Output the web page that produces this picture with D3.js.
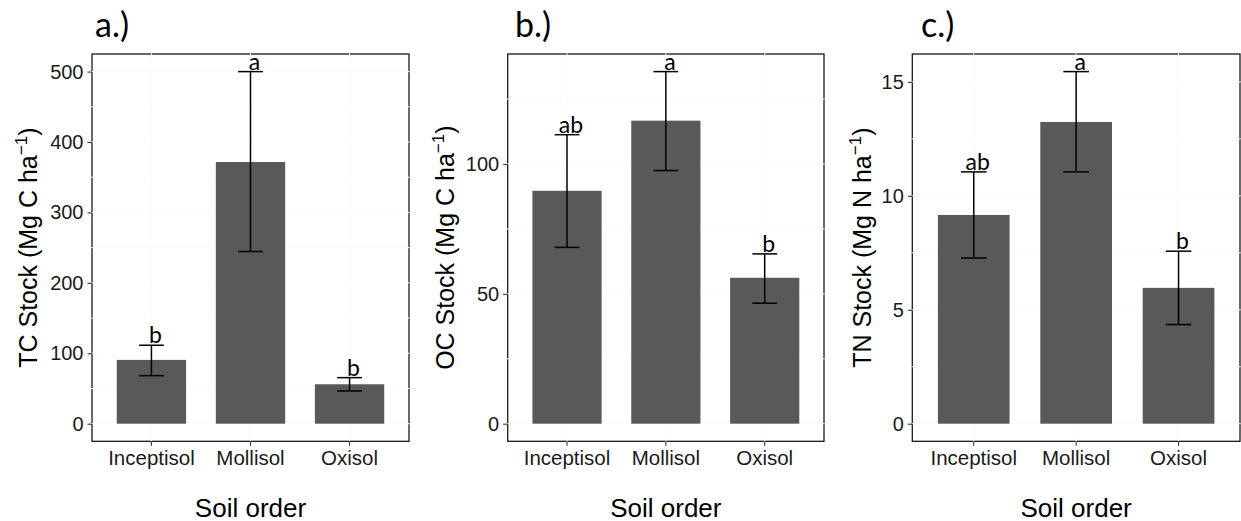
<!DOCTYPE html>
<html>
<head>
<meta charset="utf-8">
<script src="https://cdn.jsdelivr.net/npm/d3@7"></script>
<style>
  html, body { margin: 0; padding: 0; background: #fff; }
  svg { display: block; }
</style>
</head>
<body>
<svg id="chart" width="1241" height="521"></svg>
<script>
// ---- data ----
const categories = ["Inceptisol", "Mollisol", "Oxisol"];

const tcMean = [90.6, 371.6, 56.0];
const tcLow  = [68.2, 244.5, 46.5];
const tcHigh = [111.4, 500.0, 65.4];
const tcLetters = ["b", "a", "b"];
const tcTicks = [0, 100, 200, 300, 400, 500];

const ocMean = [89.7, 116.7, 56.2];
const ocLow  = [67.9, 97.5, 46.4];
const ocHigh = [111.3, 135.6, 65.4];
const ocLetters = ["ab", "a", "b"];
const ocTicks = [0, 50, 100];

const tnMean = [9.16, 13.24, 5.96];
const tnLow  = [7.27, 11.05, 4.35];
const tnHigh = [11.05, 15.45, 7.57];
const tnLetters = ["ab", "a", "b"];
const tnTicks = [0, 5, 10, 15];

const panelTitles = ["a.)", "b.)", "c.)"];
const yTitles = [
  { main: "TC Stock (Mg C ha", sup: "\u22121" },
  { main: "OC Stock (Mg C ha", sup: "\u22121" },
  { main: "TN Stock (Mg N ha", sup: "\u22121" }
];
const xTitle = "Soil order";

// ---- layout ----
const panels = [
  { left: 92,    right: 409,  titleX: 95,  yTitleX: 28,  mean: tcMean, low: tcLow, high: tcHigh, letters: tcLetters, ticks: tcTicks },
  { left: 507.7, right: 824,  titleX: 515, yTitleX: 445, mean: ocMean, low: ocLow, high: ocHigh, letters: ocLetters, ticks: ocTicks },
  { left: 912.3, right: 1240, titleX: 921, yTitleX: 862, mean: tnMean, low: tnLow, high: tnHigh, letters: tnLetters, ticks: tnTicks }
];
const panelTop = 54, panelBottom = 441.3;

const svg = d3.select("#chart");
const axisFont = "Liberation Sans, Arimo, Arial, Helvetica, sans-serif";
const annFont = "Lato, Open Sans, sans-serif";

panels.forEach((p, i) => {
  const maxV = d3.max(p.high);
  const pad = maxV * 0.05;
  const y = d3.scaleLinear().domain([-pad, maxV + pad]).range([panelBottom, panelTop]);
  const x = d3.scaleBand().domain(categories).range([p.left, p.right])
    .paddingInner(0.3).paddingOuter(0.25);
  const step = x.step();
  const cx = c => x(c) + x.bandwidth() / 2;

  const g = svg.append("g");

  // panel background + border
  g.append("rect")
    .attr("x", p.left).attr("y", panelTop)
    .attr("width", p.right - p.left).attr("height", panelBottom - panelTop)
    .attr("fill", "#fff").attr("stroke", "#1a1a1a").attr("stroke-width", 1.3);

  // white grid lines (only visible where they cross the border)
  const minor = [];
  for (let k = 0; k < p.ticks.length; k++) {
    minor.push(p.ticks[k]);
    if (k < p.ticks.length - 1) minor.push((p.ticks[k] + p.ticks[k + 1]) / 2);
  }
  const stepT = p.ticks[1] - p.ticks[0];
  if (p.ticks[p.ticks.length - 1] + stepT / 2 <= maxV + pad) minor.push(p.ticks[p.ticks.length - 1] + stepT / 2);
  g.selectAll(".hg").data(minor).enter().append("line")
    .attr("x1", p.left - 0.7).attr("x2", p.right + 0.7)
    .attr("y1", d => y(d)).attr("y2", d => y(d))
    .attr("stroke", "#fcfcfc").attr("stroke-width", 1);
  g.selectAll(".vg").data(categories).enter().append("line")
    .attr("x1", d => cx(d)).attr("x2", d => cx(d))
    .attr("y1", panelTop - 0.7).attr("y2", panelBottom + 0.7)
    .attr("stroke", "#fcfcfc").attr("stroke-width", 1);

  // bars
  g.selectAll(".bar").data(categories).enter().append("rect")
    .attr("x", d => x(d))
    .attr("width", x.bandwidth())
    .attr("y", (d, j) => y(p.mean[j]))
    .attr("height", (d, j) => y(0) - y(p.mean[j]))
    .attr("fill", "#595959");

  // error bars
  const capHalf = step * 0.125;
  const eb = g.selectAll(".eb").data(categories).enter().append("g");
  eb.append("line")
    .attr("x1", d => cx(d)).attr("x2", d => cx(d))
    .attr("y1", (d, j) => y(p.low[j])).attr("y2", (d, j) => y(p.high[j]))
    .attr("stroke", "#000").attr("stroke-width", 1.5);
  eb.append("line")
    .attr("x1", d => cx(d) - capHalf).attr("x2", d => cx(d) + capHalf)
    .attr("y1", (d, j) => y(p.low[j])).attr("y2", (d, j) => y(p.low[j]))
    .attr("stroke", "#000").attr("stroke-width", 1.5);
  eb.append("line")
    .attr("x1", d => cx(d) - capHalf).attr("x2", d => cx(d) + capHalf)
    .attr("y1", (d, j) => y(p.high[j])).attr("y2", (d, j) => y(p.high[j]))
    .attr("stroke", "#000").attr("stroke-width", 1.5);

  // significance letters
  g.selectAll(".let").data(categories).enter().append("text")
    .attr("x", d => cx(d) + 4)
    .attr("y", (d, j) => y(p.high[j]) - 2)
    .attr("text-anchor", "middle")
    .attr("font-family", annFont)
    .attr("font-size", 23)
    .attr("fill", "#000")
    .text((d, j) => p.letters[j]);

  // y axis
  const yAxis = d3.axisLeft(y).tickValues(p.ticks).tickSize(4.5).tickPadding(4).tickFormat(d3.format("d"));
  const ya = svg.append("g").attr("transform", `translate(${p.left},0)`).call(yAxis);
  ya.select(".domain").remove();
  ya.selectAll(".tick line").attr("stroke", "#333").attr("stroke-width", 1.1);
  ya.selectAll(".tick text").attr("font-family", axisFont).attr("font-size", 20).attr("fill", "#1a1a1a");

  // x axis
  const xAxis = d3.axisBottom(x).tickSize(4.5).tickPadding(4.2);
  const xa = svg.append("g").attr("transform", `translate(0,${panelBottom})`).call(xAxis);
  xa.select(".domain").remove();
  xa.selectAll(".tick line").attr("stroke", "#333").attr("stroke-width", 1.1);
  xa.selectAll(".tick text").attr("font-family", axisFont).attr("font-size", 20.5).attr("fill", "#1a1a1a");

  // x title
  svg.append("text")
    .attr("x", (p.left + p.right) / 2).attr("y", 516.5)
    .attr("text-anchor", "middle")
    .attr("font-family", axisFont).attr("font-size", 26).attr("fill", "#000")
    .text(xTitle);

  // y title
  const yt = svg.append("text")
    .attr("transform", `translate(${p.yTitleX},${(panelTop + panelBottom) / 2}) rotate(-90)`)
    .attr("dy", "0.36em")
    .attr("text-anchor", "middle")
    .attr("font-family", axisFont).attr("font-size", 25).attr("fill", "#000");
  yt.append("tspan").text(yTitles[i].main);
  yt.append("tspan").attr("font-size", 17).attr("dy", "-0.6em").text(yTitles[i].sup);
  yt.append("tspan").attr("dy", "0.4em").text(")");

  // panel title
  svg.append("text")
    .attr("x", p.titleX).attr("y", 37)
    .attr("font-family", annFont).attr("font-size", 34).attr("fill", "#000")
    .text(panelTitles[i]);
});
</script>
</body>
</html>
